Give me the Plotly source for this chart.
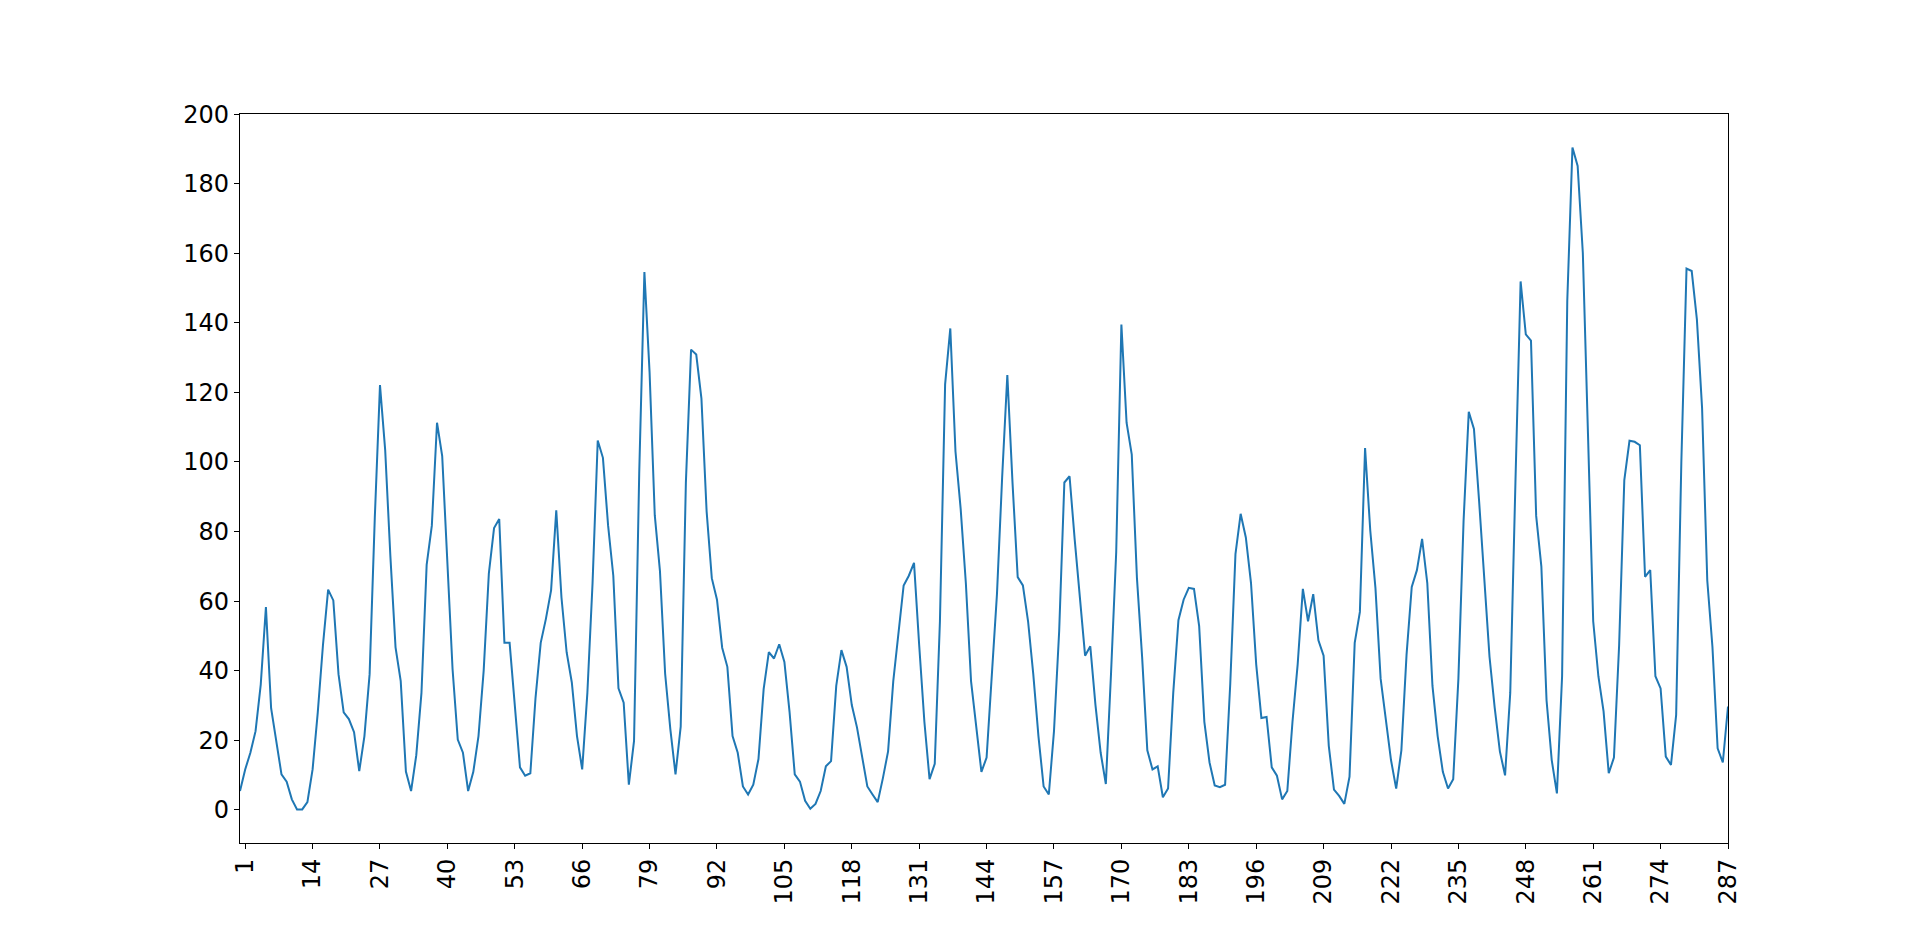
import plotly.graph_objects as go

x_values = list(range(0, 288))

y_values = [
    5.4, 11.6, 16.4, 22.6, 36.0, 58.3, 29.2, 19.8, 10.2, 8.1,
    3.0, 0.1, 0.1, 2.2, 11.6, 28.0, 47.3, 63.3, 60.2, 39.0,
    28.0, 26.1, 22.3, 11.1, 21.2, 39.0, 84.0, 122.1, 103.5, 73.0,
    46.7, 37.0, 11.0, 5.4, 15.7, 33.6, 70.4, 81.7, 111.3, 101.7,
    72.0, 40.4, 20.2, 16.4, 5.4, 10.9, 21.2, 40.0, 68.0, 81.0,
    83.6, 48.0, 48.0, 30.8, 12.2, 9.8, 10.5, 32.2, 48.0, 54.9,
    63.1, 86.1, 61.1, 45.3, 36.6, 21.2, 11.6, 33.6, 65.2, 106.2,
    101.2, 81.7, 67.3, 34.9, 30.8, 7.2, 19.8, 96.8, 154.6, 125.7,
    84.7, 68.6, 39.1, 23.2, 10.2, 23.9, 94.1, 132.3, 130.9, 118.2,
    85.8, 66.6, 60.4, 46.6, 41.1, 21.2, 16.4, 6.7, 4.4, 7.2,
    14.6, 34.7, 45.3, 43.5, 47.6, 42.5, 28.1, 10.2, 8.1, 2.6,
    0.3, 1.7, 5.4, 12.5, 14.0, 35.6, 45.9, 41.1, 30.1, 23.7,
    15.7, 6.7, 4.4, 2.2, 9.1, 16.8, 37.0, 50.8, 64.5, 67.3,
    71.0, 47.3, 25.3, 8.8, 13.2, 54.2, 122.3, 138.4, 103.0, 86.5,
    65.2, 37.0, 23.9, 10.9, 15.0, 37.0, 62.0, 95.6, 125.0, 94.0,
    66.9, 64.5, 54.2, 39.1, 21.2, 6.7, 4.4, 22.6, 51.4, 94.1,
    95.9, 77.6, 59.7, 44.3, 47.0, 30.1, 16.4, 7.4, 39.1, 74.1,
    139.5, 111.3, 102.1, 66.6, 43.9, 17.1, 11.6, 12.5, 3.6, 6.1,
    33.6, 54.5, 60.4, 63.8, 63.5, 52.8, 25.3, 13.6, 7.0, 6.5,
    7.2, 36.3, 73.5, 85.1, 78.3, 65.2, 41.8, 26.4, 26.7, 12.2,
    9.8, 3.0, 5.4, 25.3, 41.8, 63.5, 54.2, 62.0, 48.7, 44.3,
    18.4, 5.8, 4.0, 1.7, 9.5, 48.0, 56.9, 104.0, 80.3, 63.8,
    37.7, 25.3, 14.3, 6.1, 17.1, 44.6, 64.1, 68.9, 77.9, 65.2,
    35.6, 21.2, 10.9, 6.1, 8.8, 37.7, 83.1, 114.4, 109.5, 88.6,
    67.0, 44.0, 29.4, 16.8, 9.9, 33.6, 94.1, 151.9, 136.7, 134.9,
    84.5, 70.0, 31.5, 14.3, 4.7, 38.4, 146.4, 190.4, 185.1, 160.1,
    107.8, 54.2, 38.4, 28.3, 10.5, 15.0, 47.3, 94.8, 106.1, 105.8,
    104.8, 67.0, 68.9, 38.4, 34.9, 15.3, 12.9, 27.3, 100.0, 155.6,
    154.9, 141.0, 115.5, 66.0, 46.8, 17.7, 13.6, 29.7,
]

x_tick_values = [1, 14, 27, 40, 53, 66, 79, 92, 105, 118, 131, 144, 157, 170,
                 183, 196, 209, 222, 235, 248, 261, 274, 287]
x_tick_labels = [str(v) for v in x_tick_values]
y_tick_values = [0, 20, 40, 60, 80, 100, 120, 140, 160, 180, 200]

fig = go.Figure()
fig.add_trace(go.Scatter(
    x=x_values, y=y_values, mode="lines",
    line=dict(color="#1f77b4", width=2),
    showlegend=False, hoverinfo="x+y",
))

axis_common = dict(
    showgrid=False, zeroline=False,
    showline=True, linecolor="black", linewidth=1.1, mirror=True,
    ticks="outside", ticklen=5, tickwidth=1.1, tickcolor="black",
    tickfont=dict(family="DejaVu Sans", size=24, color="black"),
)

# page body has an 8px default margin; compensate so the plot area lands at
# x 240..1728, y 114..843 in the 1920x947 window
fig.update_layout(
    width=1904, height=931,
    margin=dict(l=232, r=184, t=106, b=96, pad=0),
    paper_bgcolor="white", plot_bgcolor="white",
    xaxis=dict(range=[0, 287], tickmode="array", tickvals=x_tick_values,
               ticktext=x_tick_labels, tickangle=-90, **axis_common),
    yaxis=dict(range=[-9.55, 200.05], tickmode="array", tickvals=y_tick_values,
               **axis_common),
)

fig.write_html("out.html")
